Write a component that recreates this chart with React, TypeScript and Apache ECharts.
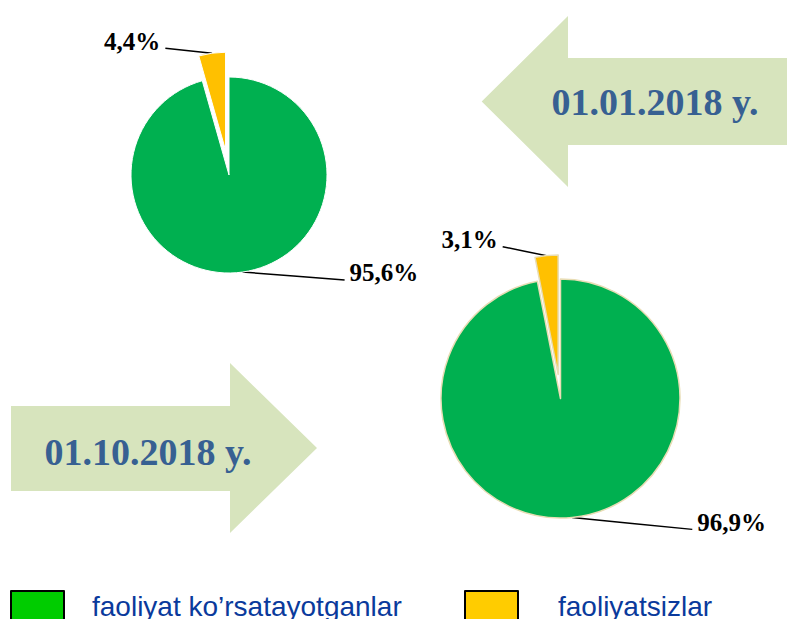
import React, { useEffect, useRef } from "react";
import * as echarts from "echarts";

const categories = ["faoliyat ko’rsatayotganlar", "faoliyatsizlar"];
const values2018Jan = [95.6, 4.4];
const values2018Oct = [96.9, 3.1];
const periodLabels = ["01.01.2018 y.", "01.10.2018 y."];
const sliceColors = ["#00B050", "#FFC000"];
const legendColors = ["#00CC00", "#FFCC00"];

const fmt = (p: any) => "{v|" + String(p.value).replace(".", ",") + "%}\n{s| }";

const labelStyle = {
  show: true,
  position: "outside",
  formatter: fmt,
  distanceToLabelLine: 5,
  rich: {
    v: {
      fontFamily: "Liberation Serif",
      fontWeight: "bold",
      fontSize: 25,
      lineHeight: 25,
      color: "#000",
    },
    s: { fontSize: 10, lineHeight: 14, height: 14 },
  },
};

// straighten the leader line: start at slice edge, go straight to the label end
const straightLine = (params: any) => {
  const pts = params.labelLinePoints;
  if (!pts || pts.length < 3) return {};
  const p0 = pts[0];
  const p2 = pts[2];
  return {
    labelLinePoints: [p0, [(p0[0] + p2[0]) / 2, (p0[1] + p2[1]) / 2], p2],
  };
};

function buildData(vals: number[], lines: { length: number; length2: number }[]) {
  return vals.map((v, i) => ({
    name: categories[i],
    value: v,
    selected: i === 1,
    itemStyle: { color: sliceColors[i] },
    labelLine: { length: lines[i].length, length2: lines[i].length2 },
  }));
}

export default function App() {
  const ref = useRef<HTMLDivElement>(null);
  useEffect(() => {
    if (!ref.current) return;
    const chart = echarts.init(ref.current, null, { renderer: "svg" });
    const option: any = {
      animation: false,
      graphic: [
        {
          type: "polygon",
          z: 0,
          shape: {
            points: [
              [481.7, 101.5],
              [568, 16],
              [568, 58],
              [787, 58],
              [787, 145],
              [568, 145],
              [568, 187],
            ],
          },
          style: { fill: "#D7E4BD" },
        },
        {
          type: "polygon",
          z: 0,
          shape: {
            points: [
              [11, 406],
              [230, 406],
              [230, 363],
              [317, 448],
              [230, 533],
              [230, 491],
              [11, 491],
            ],
          },
          style: { fill: "#D7E4BD" },
        },
        {
          type: "text",
          z: 1,
          x: 655,
          y: 102,
          style: {
            text: periodLabels[0],
            fill: "#376092",
            font: "bold 38px 'Liberation Serif'",
            textAlign: "center",
            textVerticalAlign: "middle",
          },
        },
        {
          type: "text",
          z: 1,
          x: 148,
          y: 452,
          style: {
            text: periodLabels[1],
            fill: "#376092",
            font: "bold 38px 'Liberation Serif'",
            textAlign: "center",
            textVerticalAlign: "middle",
          },
        },
      ],
      legend: [
        {
          left: 10,
          top: 590,
          padding: 0,
          icon: "rect",
          itemWidth: 53,
          itemHeight: 30,
          selectedMode: false,
          data: [
            {
              name: categories[0],
              itemStyle: { color: legendColors[0], borderColor: "#000", borderWidth: 2 },
            },
          ],
          textStyle: {
            fontFamily: "Liberation Sans",
            fontSize: 28,
            color: "#0A3A9C",
            padding: [0, 0, 0, 23],
          },
        },
        {
          left: 464,
          top: 590,
          padding: 0,
          icon: "rect",
          itemWidth: 53,
          itemHeight: 30,
          selectedMode: false,
          data: [
            {
              name: categories[1],
              itemStyle: { color: legendColors[1], borderColor: "#000", borderWidth: 2 },
            },
          ],
          textStyle: {
            fontFamily: "Liberation Sans",
            fontSize: 28,
            color: "#0A3A9C",
            padding: [0, 0, 0, 35],
          },
        },
      ],
      series: [
        {
          type: "pie",
          name: periodLabels[0],
          center: [229, 175],
          radius: 98,
          startAngle: 90,
          clockwise: true,
          selectedMode: "single",
          selectedOffset: 25,
          avoidLabelOverlap: false,
          emphasis: { disabled: true },
          itemStyle: { borderColor: "#fff", borderWidth: 1 },
          label: labelStyle,
          labelLine: { show: true, lineStyle: { color: "#000", width: 1.5 } },
          labelLayout: straightLine,
          data: buildData(values2018Jan, [
            { length: 8, length2: 101 },
            { length: 5, length2: 46 },
          ]),
        },
        {
          type: "pie",
          name: periodLabels[1],
          center: [560.5, 398.5],
          radius: 119.5,
          startAngle: 90,
          clockwise: true,
          selectedMode: "single",
          selectedOffset: 24,
          avoidLabelOverlap: false,
          emphasis: { disabled: true },
          itemStyle: { borderColor: "#E8DDB5", borderWidth: 1.5 },
          label: labelStyle,
          labelLine: { show: true, lineStyle: { color: "#000", width: 1.5 } },
          labelLayout: straightLine,
          data: buildData(values2018Oct, [
            { length: 12, length2: 119 },
            { length: 9, length2: 43 },
          ]),
        },
      ],
    };
    chart.setOption(option);
    return () => chart.dispose();
  }, []);
  return (
    <div
      ref={ref}
      style={{ position: "absolute", left: 0, top: 0, width: 787, height: 619, background: "#fff" }}
    />
  );
}
